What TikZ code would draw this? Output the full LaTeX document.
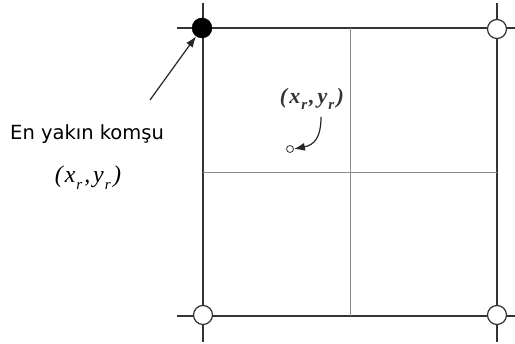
\documentclass[tikz,border=0pt]{standalone}
\usepackage{fontspec}
\setmainfont{Liberation Serif}
\newfontfamily\labelfont{DejaVu Sans}
\usetikzlibrary{arrows.meta}
\newcommand{\myrsub}{\raisebox{-0.3em}{\fontsize{15}{15}\selectfont r}}
\newcommand{\mycrd}{(\hspace{2pt}x\hspace{1pt}\myrsub\hspace{2pt},\hspace{3pt}y\hspace{1pt}\myrsub\hspace{2.5pt})}
\begin{document}
\begin{tikzpicture}[x=1pt,y=-1pt,
  outer/.style={draw=black!80,line width=1.8pt},
  inner/.style={draw=black!45,line width=0.9pt},
  opendot/.style={circle,draw=black!80,line width=1.2pt,fill=white,minimum size=19pt,inner sep=0pt},
  fulldot/.style={circle,draw=black,fill=black,minimum size=20pt,inner sep=0pt},
  smalldot/.style={circle,draw=black!80,line width=0.8pt,fill=white,minimum size=7pt,inner sep=0pt},
  pointer/.style={draw=black!85,line width=1.2pt,-{Latex[length=11pt,width=8pt]}},
  coord/.style={font=\itshape\fontsize{24}{26}\selectfont,inner sep=0pt},
  scoord/.style={font=\bfseries\itshape\fontsize{22}{24}\selectfont,text=black!80,inner sep=0pt}]
\useasboundingbox (0,0) rectangle (515,344);
% outer grid lines
\draw[outer] (177,28) -- (515,28);
\draw[outer] (177,316) -- (515,316);
\draw[outer] (203,3) -- (203,342);
\draw[outer] (497,3) -- (497,342);
% inner lines
\draw[inner] (350,28) -- (350,316);
\draw[inner] (203,172) -- (497,172);
% corner points
\node[fulldot] (tl) at (202,28) {};
\node[opendot] (tr) at (497,29) {};
\node[opendot] (bl) at (203,315) {};
\node[opendot] (br) at (497,315) {};
% interpolated point
\node[smalldot] (p) at (290,149) {};
\node[scoord] (plabel) at (312,99) {\mycrd};
\coordinate (ps) at (321,117);
\draw[pointer] (ps) .. controls (321,138) and (314,145) .. (p.east);
% nearest neighbour label
\node[font=\labelfont\fontsize{19.5}{22}\selectfont,inner sep=0pt,anchor=west] (nn) at (10,134) {En yakın komşu};
\node[coord] (nnc) at (88,178) {\mycrd};
\coordinate (as) at (150,100);
\draw[pointer] (as) -- (tl);
\end{tikzpicture}
\end{document}
